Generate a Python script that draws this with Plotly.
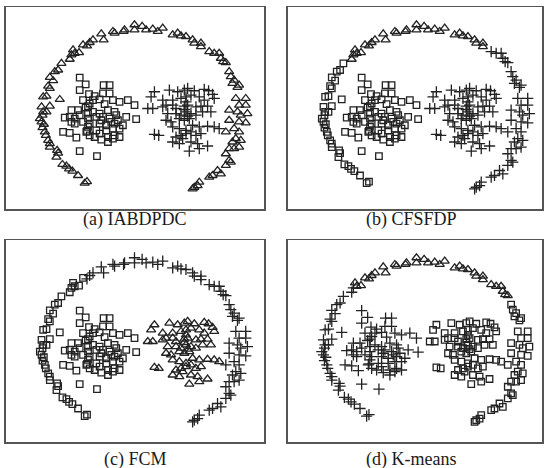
import plotly.graph_objects as go

# Shared point set (arbitrary units, y grows downward)
ring_x = [262, 255, 235, 218, 208, 200, 188, 170, 175, 172, 150, 150, 145, 138, 135, 128, 132, 125, 120, 128,
          130, 140, 125, 150, 130, 140, 180, 150, 145, 160, 150, 165, 175, 185,
          210, 215, 225, 238, 220, 250, 262, 270, 280, 305, 312, 340, 345, 372, 375, 405, 405, 428, 440, 460,
          475, 490, 520, 535, 545, 560, 580, 585, 605, 605, 630, 645, 660, 665, 672, 680,
          690, 695, 705, 700, 715, 720, 740, 710, 720, 740, 690, 715, 725, 745, 690, 720, 740, 705, 720, 680,
          710, 725, 700, 690, 705, 720, 680, 690, 680, 695, 655, 665, 640, 630, 600, 595, 585, 580]
ring_y = [543, 548, 525, 512, 505, 497, 492, 470, 458, 450, 440, 430, 420, 405, 395, 382, 372, 365, 355, 345,
          335, 335, 320, 318, 290, 288, 298, 265, 258, 242, 232, 215, 210, 190,
          178, 165, 160, 158, 150, 135, 138, 128, 120, 102, 120, 95, 100, 95, 90, 75, 90, 80, 90, 88,
          95, 85, 105, 100, 108, 110, 120, 130, 130, 140, 155, 160, 160, 175, 185, 188,
          215, 230, 240, 250, 262, 255, 295, 295, 315, 315, 330, 335, 345, 340, 360, 365, 368, 385, 395, 395,
          415, 420, 425, 445, 445, 440, 460, 480, 495, 485, 510, 520, 525, 530, 545, 555, 560, 565]

left_x = [240, 258, 312, 330, 240, 268, 285, 310, 330, 250, 270, 280, 300, 315, 340, 360, 385, 405,
          215, 235, 258, 280, 300, 325, 345, 265, 195, 210, 225, 240, 265, 290, 310, 330, 350, 380, 410,
          215, 225, 250, 265, 270, 300, 305, 320, 335, 345, 355, 370, 265, 290, 320, 340, 360, 262,
          190, 210, 230, 260, 270, 285, 300, 325, 340, 345, 360, 305, 325, 240, 292]
left_y = [233, 253, 255, 255, 270, 282, 288, 280, 280, 300, 310, 300, 298, 312, 300, 305, 300, 315,
          330, 330, 322, 335, 340, 330, 335, 318, 352, 350, 355, 345, 340, 350, 350, 355, 345, 350, 357,
          365, 370, 365, 355, 370, 370, 360, 375, 365, 370, 360, 375, 380, 390, 390, 385, 385, 392,
          395, 398, 412, 395, 405, 410, 400, 410, 415, 405, 410, 418, 425, 452, 467]

right_x = [465, 510, 535, 555, 565, 585, 615, 628, 640, 455, 490, 520, 545, 560, 575, 600, 615, 645,
           445, 460, 490, 500, 520, 530, 555, 565, 590, 605, 625, 560, 505, 530, 545, 560, 575, 590, 610, 635, 555,
           500, 515, 540, 555, 570, 565, 580, 600, 625, 645, 660, 520, 540, 560,
           465, 478, 530, 545, 560, 575, 590, 605, 550, 520, 540, 575, 595, 625, 570, 600]
right_y = [275, 270, 275, 270, 265, 272, 268, 272, 283, 290, 300, 300, 295, 290, 285, 290, 300, 295,
           325, 325, 320, 315, 315, 325, 318, 315, 320, 318, 318, 305, 340, 340, 345, 335, 340, 345, 335, 335, 328,
           360, 365, 355, 360, 355, 348, 375, 380, 378, 380, 385, 380, 385, 390,
           402, 405, 410, 405, 400, 395, 405, 400, 415, 425, 430, 425, 430, 437, 452, 445]

# Cluster labels per panel: ring label runs (label, count); cluster labels
panels = [
    {"name": "(a) IABDPDC", "ring": [("T", 108)], "left": "S", "right": "P"},
    {"name": "(b) CFSFDP", "ring": [("S", 34), ("T", 30), ("P", 44)], "left": "S", "right": "P"},
    {"name": "(c) FCM", "ring": [("S", 40), ("P", 68)], "left": "S", "right": "T"},
    {"name": "(d) K-means", "ring": [("P", 36), ("T", 34), ("S", 38)], "left": "P", "right": "S"},
]

W, H = 544, 468
frames = [(6, 265, 7, 209), (289, 544, 7, 209), (6, 265, 240, 442), (289, 544, 240, 442)]
caption_y = [219, 219, 459, 459]

sym = {"S": ("square-open", 6.5), "T": ("triangle-up-open", 8), "P": ("cross-thin-open", 8)}
col = "#222222"

fig = go.Figure()
layout = dict(width=W, height=H, margin=dict(l=0, r=0, t=0, b=0),
              paper_bgcolor="white", plot_bgcolor="white", showlegend=False, annotations=[])

for i, p in enumerate(panels):
    labels = []
    for lab, n in p["ring"]:
        labels += [lab] * n
    xs = list(ring_x) + list(left_x) + list(right_x)
    ys = list(ring_y) + list(left_y) + list(right_y)
    labels += [p["left"]] * len(left_x) + [p["right"]] * len(right_x)
    ax = "" if i == 0 else str(i + 1)
    for lab in ["S", "T", "P"]:
        px = [x for x, l in zip(xs, labels) if l == lab]
        py = [y for y, l in zip(ys, labels) if l == lab]
        if not px:
            continue
        s, sz = sym[lab]
        fig.add_trace(go.Scatter(x=px, y=py, mode="markers", xaxis="x" + ax, yaxis="y" + ax,
                                 marker=dict(symbol=s, size=sz, color=col,
                                             line=dict(width=1.3, color=col)),
                                 hoverinfo="skip"))
    x0, x1, y0, y1 = frames[i]
    xr = [18, 18 + (x1 - x0) * 3]
    common = dict(showticklabels=False, ticks="", showgrid=False, zeroline=False,
                  showline=True, mirror=True, linecolor="#555555", linewidth=1.5)
    layout["xaxis" + ax] = dict(domain=[x0 / W, x1 / W], range=xr,
                                anchor="y" + ax, **common)
    layout["yaxis" + ax] = dict(domain=[1 - y1 / H, 1 - y0 / H], range=[625, 22],
                                anchor="x" + ax, **common)
    layout["annotations"].append(dict(text=p["name"], xref="paper", yref="paper",
                                      x=((x0 + min(x1, 543)) / 2 + (0 if i % 2 == 0 else -3)) / W,
                                      y=1 - caption_y[i] / H, showarrow=False,
                                      xanchor="center", yanchor="middle",
                                      font=dict(family="Liberation Serif", size=18, color="#1a1a1a")))

fig.update_layout(**layout)
fig.write_html("out.html", config={"displayModeBar": False, "staticPlot": True},
               post_script="document.body.style.margin='0';document.body.style.padding='0';")
